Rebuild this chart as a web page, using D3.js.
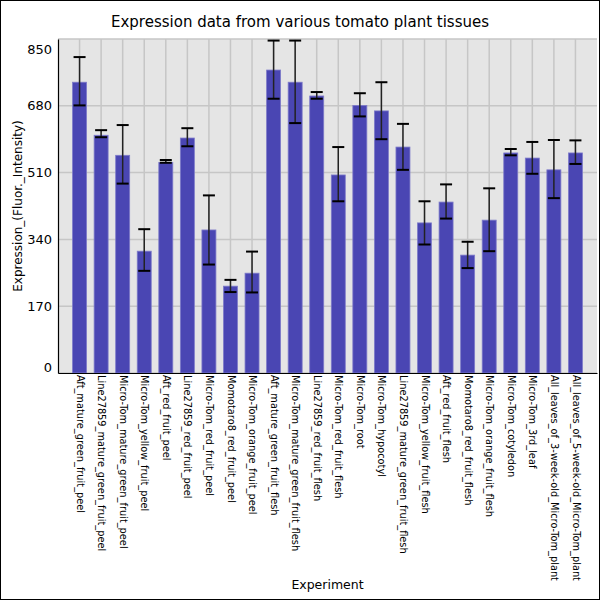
<!DOCTYPE html>
<html>
<head>
<meta charset="utf-8">
<script src="https://cdn.jsdelivr.net/npm/d3@7"></script>
<style>
  body { margin: 0; background: #fff; }
  svg { display: block; font-family: "DejaVu Sans", sans-serif; }
</style>
</head>
<body>
<div id="chart"></div>
<script>
const experiments = [
  "Aft_mature_green_fruit_peel",
  "Line27859_mature_green_fruit_peel",
  "Micro-Tom_mature_green_fruit_peel",
  "Micro-Tom_yellow_fruit_peel",
  "Aft_red_fruit_peel",
  "Line27859_red_fruit_peel",
  "Micro-Tom_red_fruit_peel",
  "Momotaro8_red_fruit_peel",
  "Micro-Tom_orange_fruit_peel",
  "Aft_mature_green_fruit_flesh",
  "Micro-Tom_mature_green_fruit_flesh",
  "Line27859_red_fruit_flesh",
  "Micro-Tom_red_fruit_flesh",
  "Micro-Tom_root",
  "Micro-Tom_hypocotyl",
  "Line27859_mature_green_fruit_flesh",
  "Micro-Tom_yellow_fruit_flesh",
  "Aft_red_fruit_flesh",
  "Momotaro8_red_fruit_flesh",
  "Micro-Tom_orange_fruit_flesh",
  "Micro-Tom_cotyledon",
  "Micro-Tom_3rd_leaf",
  "All_leaves_of_3-week-old_Micro-Tom_plant",
  "All_leaves_of_5-week-old_Micro-Tom_plant"
]
const expression = [740, 605, 554, 310, 536, 598, 364, 221, 254, 771, 740, 705,
  504, 681, 667, 575, 382, 435, 300, 389, 560, 547, 517, 560]
const errLow = [681, 600, 482, 260, 535, 577, 276, 206, 205, 698, 636, 698,
  437, 653, 595, 517, 327, 393, 267, 310, 554, 507, 445, 532]
const errHigh = [804, 618, 631, 366, 542, 623, 452, 237, 309, 846, 846, 715,
  575, 712, 740, 634, 437, 480, 334, 470, 570, 588, 593, 592]
const yTicks = [0, 170, 340, 510, 680, 850]

const width = 600, height = 600
const margin = { top: 39, right: 3, bottom: 227, left: 58 }
const plotW = width - margin.left - margin.right
const plotH = height - margin.top - margin.bottom

const data = experiments.map((name, i) => ({
  name: name, value: expression[i], lo: errLow[i], hi: errHigh[i]
}))

const svg = d3.select("#chart").append("svg")
  .attr("width", width)
  .attr("height", height)

// outer frame
svg.append("rect")
  .attr("x", 0.5).attr("y", 0.5)
  .attr("width", width - 1).attr("height", height - 1)
  .attr("fill", "#fff").attr("stroke", "#000")

svg.append("text")
  .attr("x", width / 2)
  .attr("y", 27)
  .attr("text-anchor", "middle")
  .attr("font-size", 15)
  .attr("fill", "#000")
  .text("Expression data from various tomato plant tissues")

const g = svg.append("g")
  .attr("transform", "translate(" + margin.left + "," + margin.top + ")")

const x = d3.scalePoint().domain(experiments).range([0, plotW]).padding(1)
const y = d3.scaleLinear().domain([0, 850]).range([plotH, 0])

g.append("rect")
  .attr("width", plotW).attr("height", plotH)
  .attr("fill", "#e5e5e5")

// grid
g.append("g").selectAll("line").data(yTicks).join("line")
  .attr("x1", 0).attr("x2", plotW)
  .attr("y1", d => y(d)).attr("y2", d => y(d))
  .attr("stroke", "#c6c6c6").attr("stroke-width", 1.5)
g.append("g").selectAll("line").data(experiments).join("line")
  .attr("x1", d => x(d)).attr("x2", d => x(d))
  .attr("y1", 0).attr("y2", plotH)
  .attr("stroke", "#c6c6c6").attr("stroke-width", 1.5)

// bars
const barW = 14
g.append("g").selectAll("rect").data(data).join("rect")
  .attr("x", d => x(d.name) - barW / 2)
  .attr("width", barW)
  .attr("y", d => y(d.value))
  .attr("height", d => y(0) - y(d.value))
  .attr("fill", "#4a46b3")
  .attr("stroke", "#7e7bc9")
  .attr("stroke-width", 0.8)

// error bars
const capW = 12
const eb = g.append("g").selectAll("g").data(data).join("g")
eb.append("line")
  .attr("x1", d => x(d.name)).attr("x2", d => x(d.name))
  .attr("y1", d => y(d.lo)).attr("y2", d => y(d.hi))
  .attr("stroke", "#222").attr("stroke-width", 1.5)
eb.append("line")
  .attr("x1", d => x(d.name) - capW / 2).attr("x2", d => x(d.name) + capW / 2)
  .attr("y1", d => y(d.hi)).attr("y2", d => y(d.hi))
  .attr("stroke", "#000").attr("stroke-width", 2)
eb.append("line")
  .attr("x1", d => x(d.name) - capW / 2).attr("x2", d => x(d.name) + capW / 2)
  .attr("y1", d => y(d.lo)).attr("y2", d => y(d.lo))
  .attr("stroke", "#000").attr("stroke-width", 2)

// y axis
const yAxis = g.append("g")
  .call(d3.axisLeft(y).tickValues(yTicks).tickSize(0).tickPadding(6))
yAxis.select(".domain").attr("stroke", "#000").attr("stroke-width", 1.2)
yAxis.selectAll("text")
  .attr("font-size", 13)
  .attr("font-family", "DejaVu Sans, sans-serif")
  .attr("fill", "#000")
  .attr("dy", d => d === 850 ? "1.1em" : d === 0 ? "-0.15em" : "0.32em")

// x axis
const xAxis = g.append("g")
  .attr("transform", "translate(0," + plotH + ")")
  .call(d3.axisBottom(x).tickSize(0).tickPadding(0))
xAxis.select(".domain").attr("stroke", "#000").attr("stroke-width", 1.2)
xAxis.selectAll("text")
  .attr("font-size", 9.8)
  .attr("font-family", "DejaVu Sans, sans-serif")
  .attr("fill", "#000")
  .attr("text-anchor", "start")
  .attr("transform", "rotate(90)")
  .attr("x", 2)
  .attr("y", 0)
  .attr("dy", "0.35em")

svg.append("text")
  .attr("transform", "translate(22," + (margin.top + plotH / 2) + ") rotate(-90)")
  .attr("text-anchor", "middle")
  .attr("font-size", 12)
  .text("Expression_(Fluor._Intensity)")

svg.append("text")
  .attr("x", margin.left + plotW / 2)
  .attr("y", 589)
  .attr("text-anchor", "middle")
  .attr("font-size", 12.5)
  .text("Experiment")
</script>
</body>
</html>
